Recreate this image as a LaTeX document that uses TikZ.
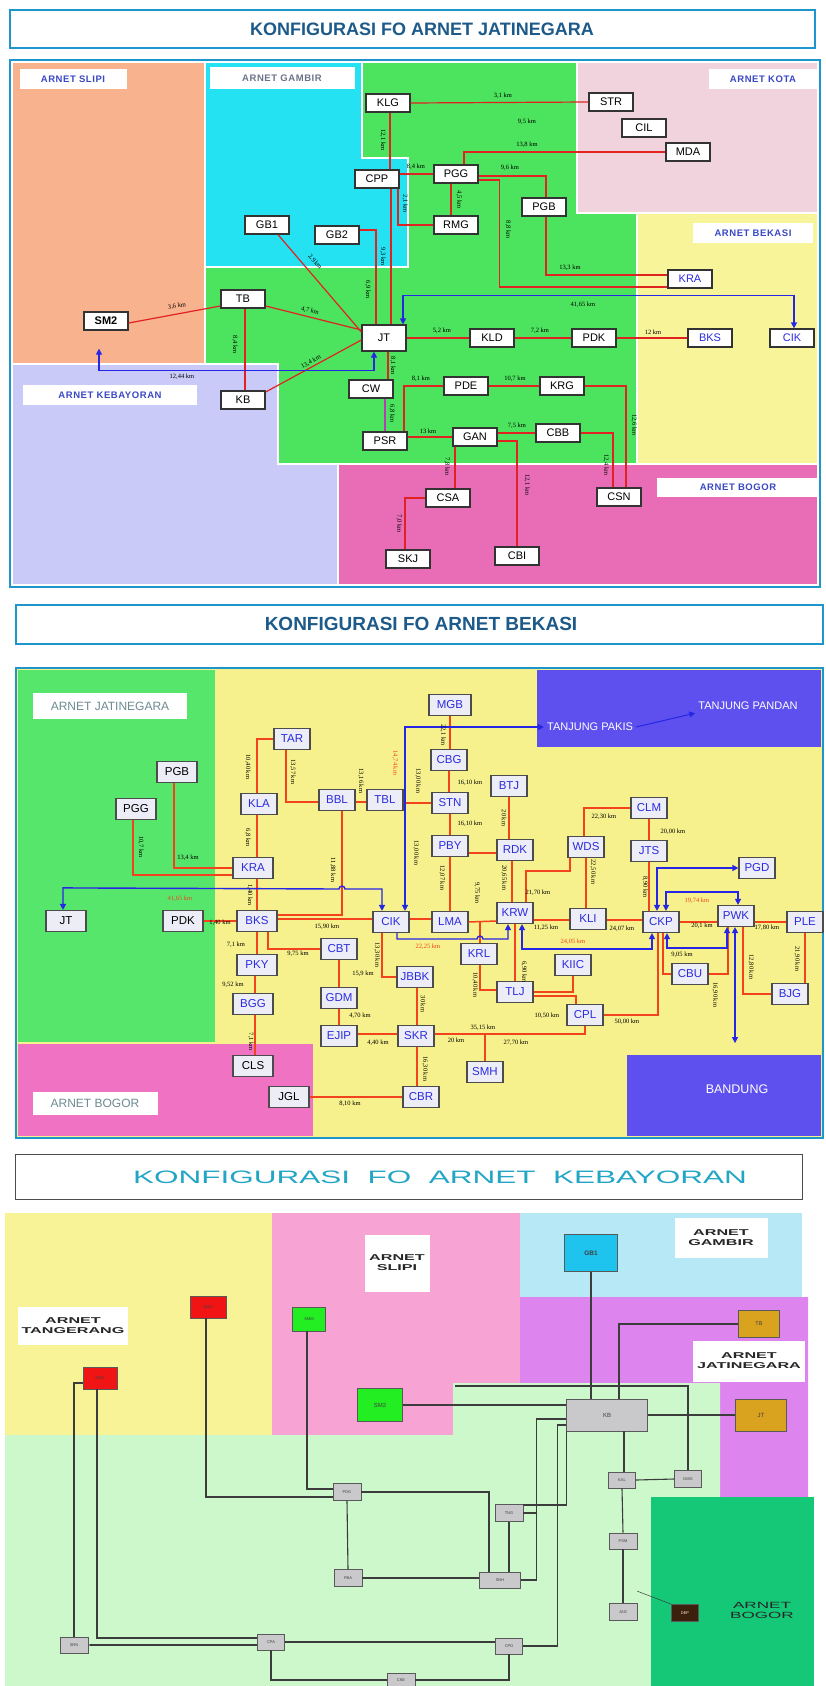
\documentclass[tikz,border=0pt]{standalone}
\usepackage{fontspec}
\setmainfont{Liberation Serif}
\setsansfont{Liberation Sans}
\newfontfamily\regfont[LetterSpace=6]{Liberation Sans}
\newfontfamily\widefont[FakeStretch=1.75]{Liberation Sans}
\newfontfamily\xwidefont[FakeStretch=1.9]{Liberation Sans}
\usetikzlibrary{arrows.meta}

% palette
\definecolor{frameblue}{HTML}{1E96CC}
\definecolor{titletext}{HTML}{1D5A8A}
\definecolor{rgorange}{HTML}{F9B28E}
\definecolor{rgcyan}{HTML}{25E2F2}
\definecolor{rggreen}{HTML}{4CE35E}
\definecolor{rgkota}{HTML}{F1D3DD}
\definecolor{rgyellow}{HTML}{F8F49A}
\definecolor{rgbogor}{HTML}{E86DB6}
\definecolor{rglav}{HTML}{CACAF8}
\definecolor{fored}{HTML}{E02222}
\definecolor{cwpurple}{HTML}{B43CB4}
\definecolor{lblblue}{HTML}{3A48C4}
\definecolor{lblgray}{HTML}{6C7488}
\definecolor{arrblue}{HTML}{2626E6}
\definecolor{mgreen}{HTML}{56E66C}
\definecolor{myellow}{HTML}{F6F18C}
\definecolor{mpink}{HTML}{F072C2}
\definecolor{mviolet}{HTML}{5E50EE}
\definecolor{mred}{HTML}{F2421E}
\definecolor{mnodefill}{HTML}{EDEDF7}
\definecolor{mnodetext}{HTML}{2B2BE0}
\definecolor{mgray}{HTML}{6E8A92}
\definecolor{kyellow}{HTML}{F8F396}
\definecolor{kpink}{HTML}{F7A3D3}
\definecolor{kblue}{HTML}{B6E8F6}
\definecolor{kpurple}{HTML}{DE84EE}
\definecolor{kgreen}{HTML}{CCF8CC}
\definecolor{kdgreen}{HTML}{14C878}
\definecolor{ktitle}{HTML}{23A6C6}
\definecolor{kgold}{HTML}{D9A21F}
\definecolor{kgbox}{HTML}{C9C9CB}
\definecolor{kgb1}{HTML}{1EC4EE}
\definecolor{kred}{HTML}{F01414}
\definecolor{kgrn}{HTML}{22EE22}
\definecolor{kline}{HTML}{3C3C3C}
\definecolor{kdep}{HTML}{3C200E}

\newcounter{lbn}
\newcommand{\lab}[4][el]{\stepcounter{lbn}\node[#1] (lab\thelbn) at (#2,#3) {#4};}

\tikzset{
  tn/.style={draw=black!80, line width=1.3pt, fill=white, minimum width=44pt,
    minimum height=18pt, inner sep=0pt, font=\fontsize{11}{11}\selectfont\sffamily},
  tnb/.style={tn, text=mnodetext},
  mn/.style={draw=black!70, line width=1.2pt, fill=mnodefill, minimum width=36pt,
    minimum height=21pt, inner sep=0pt, text=mnodetext,
    font=\fontsize{11.5}{11.5}\selectfont\sffamily},
  mnw/.style={mn, minimum width=40pt},
  mnk/.style={mnw, text=black},
  rl/.style={line width=1.2pt, draw=fored},
  ml/.style={line width=1.5pt, draw=mred},
  bl/.style={line width=1.4pt, draw=arrblue, >={Triangle[length=6pt,width=6pt]}},
  el/.style={font=\fontsize{6.5}{6.5}\selectfont\rmfamily, inner sep=0pt},
  ev/.style={el, rotate=-90},
  er/.style={el, text=mred},
  erv/.style={ev, text=mred},
  rlab/.style={fill=white, inner sep=0pt, text=lblblue,
    font={\fontsize{9.5}{9.5}\regfont\bfseries}},
  kl/.style={line width=1.1pt, draw=kline},
  kn/.style={draw=black!65, line width=0.8pt, fill=kgbox, inner sep=0pt,
    minimum width=28pt, minimum height=17pt, text=black!75,
    font=\fontsize{4}{4}\selectfont\sffamily},
  klab/.style={fill=white, inner sep=0pt, align=center, text=black!85,
    font={\fontsize{8.5}{10}\xwidefont\bfseries}},
}

\begin{document}
\begin{tikzpicture}[x=1pt,y=-1pt]
\useasboundingbox (0,0) rectangle (825,1686);
\fill[white] (0,0) rectangle (825,1686);

%% ===================== ARNET JATINEGARA =====================
\draw[frameblue, line width=2.5pt, fill=white] (10,10) rectangle (815,48);
\node[font=\fontsize{18}{18}\selectfont\sffamily\bfseries, text=titletext] (ttop) at (422,29)
  {KONFIGURASI FO ARNET JATINEGARA};

\begin{scope}[draw=white, line width=1.5pt]
  \filldraw[fill=rgorange] (12,62) rectangle (205,364);
  \filldraw[fill=rgcyan] (205,62) -- (362,62) -- (362,158) -- (408,158) -- (408,267) -- (205,267) -- cycle;
  \filldraw[fill=rggreen] (362,62) -- (577,62) -- (577,213) -- (637,213) -- (637,464) -- (278,464)
    -- (278,364) -- (205,364) -- (205,267) -- (408,267) -- (408,158) -- (362,158) -- cycle;
  \filldraw[fill=rglav] (12,364) -- (278,364) -- (278,464) -- (338,464) -- (338,585) -- (12,585) -- cycle;
  \filldraw[fill=rgkota] (577,62) rectangle (818,213);
  \filldraw[fill=rgyellow] (637,213) rectangle (818,464);
  \filldraw[fill=rgbogor] (338,464) rectangle (818,585);
\end{scope}
\draw[frameblue, line width=2.5pt] (10,60) rectangle (820,587);

\node[rlab, minimum width=107pt, minimum height=20pt] (rSlipi) at (73,79) {ARNET SLIPI};
\node[rlab, minimum width=145pt, minimum height=21pt, text=lblgray] (rGambir) at (282,78) {ARNET GAMBIR};
\node[rlab, minimum width=108pt, minimum height=19pt] (rKota) at (763,79) {ARNET KOTA};
\node[rlab, minimum width=120pt, minimum height=20pt] (rBekasi) at (753,233) {ARNET BEKASI};
\node[rlab, minimum width=174pt, minimum height=20pt] (rKeb) at (110,395) {ARNET KEBAYORAN};
\node[rlab, minimum width=162pt, minimum height=19pt] (rBogor) at (738,487) {ARNET BOGOR};

% stations
\node[tn] (aKLG) at (388,103) {KLG};
\node[tn] (aSTR) at (611,102) {STR};
\node[tn] (aCIL) at (644,128) {CIL};
\node[tn] (aMDA) at (688,152) {MDA};
\node[tn] (aCPP) at (377,179) {CPP};
\node[tn] (aPGG) at (456,174) {PGG};
\node[tn] (aGB1) at (267,225) {GB1};
\node[tn] (aGB2) at (337,235) {GB2};
\node[tn] (aRMG) at (456,225) {RMG};
\node[tn] (aPGB) at (544,207) {PGB};
\node[tnb] (aKRA) at (690,279) {KRA};
\node[tn] (aTB) at (243,299) {TB};
\node[tn] (aSM2) at (106,321) {\bfseries SM2};
\node[tn, minimum height=26pt] (aJT) at (384,338) {JT};
\node[tn] (aKLD) at (492,338) {KLD};
\node[tn] (aPDK) at (594,338) {PDK};
\node[tnb] (aBKS) at (710,338) {BKS};
\node[tnb] (aCIK) at (792,338) {CIK};
\node[tn] (aCW) at (371,389) {CW};
\node[tn] (aKB) at (243,400) {KB};
\node[tn] (aPDE) at (466,386) {PDE};
\node[tn] (aKRG) at (562,386) {KRG};
\node[tn] (aPSR) at (385,441) {PSR};
\node[tn] (aGAN) at (475,437) {GAN};
\node[tn] (aCBB) at (558,433) {CBB};
\node[tn] (aCSA) at (448,498) {CSA};
\node[tn] (aCSN) at (619,497) {CSN};
\node[tn] (aSKJ) at (408,559) {SKJ};
\node[tn] (aCBI) at (517,556) {CBI};

% fibre links
\draw[rl] (aKLG.east) -- (aSTR.west);
\draw[rl] ([xshift=2pt]aKLG.south) -- ([xshift=2pt]aKLG.south |- aCPP.north);
\draw[rl] (aCPP.east |- aPGG.west) -- (aPGG.west);
\draw[rl] ([xshift=21pt]aCPP.south) |- (aRMG.west);
\draw[rl] ([xshift=-5pt]aPGG.south) -- ([xshift=-5pt]aRMG.north);
\draw[rl] ([xshift=8pt]aPGG.north) |- (aMDA.west);
\draw[rl] ([yshift=-2pt]aPGG.east) -| ([xshift=2pt]aPGB.north);
\draw[rl] ([yshift=-6pt]aPGG.east) -- ++(21,0) |- ([yshift=-8pt]aKRA.west);
\draw[rl] ([xshift=2pt]aPGB.south) |- ([yshift=4pt]aKRA.west);
\draw[rl] ([xshift=11pt]aGB1.south) -- ([yshift=6pt]aJT.west);
\draw[rl] ([yshift=5pt]aGB2.east) -| ([xshift=-8pt]aJT.north);
\draw[rl] ([xshift=14pt]aCPP.south) -- ([xshift=14pt]aCPP.south |- aJT.north);
\draw[rl] ([yshift=-2pt]aSM2.east) -- ([yshift=-7pt]aTB.west);
\draw[rl] ([yshift=-7pt]aTB.east) -- ([yshift=8pt]aJT.west);
\draw[rl] ([xshift=2pt]aTB.south) -- ([xshift=2pt]aTB.south |- aKB.north);
\draw[rl] ([yshift=8pt]aKB.east) -- ([yshift=-2pt]aJT.west);
\draw[rl] ([xshift=4pt]aJT.south) -- ([xshift=4pt]aJT.south |- aCW.north);
\draw[rl, draw=cwpurple] (aCW.south -| aPSR.north) -- (aPSR.north);
\draw[rl] (aJT.east) -- (aKLD.west);
\draw[rl] (aKLD.east) -- (aPDK.west);
\draw[rl] (aPDK.east) -- (aBKS.west);
\draw[rl] ([xshift=19pt]aPSR.north) |- (aPDE.west);
\draw[rl] (aPDE.east) -- (aKRG.west);
\draw[rl] (aKRG.east) -| ([xshift=7pt]aCSN.north);
\draw[rl] (aPSR.east |- aGAN.west) -- (aGAN.west);
\draw[rl] (aGAN.east |- aCBB.west) -- (aCBB.west);
\draw[rl] (aCBB.east) -| ([xshift=-6pt]aCSN.north);
\draw[rl] ([xshift=-20pt]aGAN.south) -- ([xshift=-20pt]aGAN.south |- aCSA.north);
\draw[rl] ([yshift=-4pt]aGAN.east) -| (aCBI.north);
\draw[rl] (aCSA.west) -| ([xshift=-3pt]aSKJ.north);
\draw[bl,<->] ([xshift=19pt]aJT.north) -- ++(0,-29) -| ([xshift=2pt]aCIK.north);
\draw[bl,<->] ([xshift=-10pt]aJT.south) -- ++(0,19) -| ([xshift=-7pt,yshift=-18pt]aSM2.south);

% distances
\lab{503}{96}{3,1 km}
\lab{527}{122}{9,5 km}
\lab{527}{145}{13,8 km}
\lab{416}{167}{8,4 km}
\lab{510}{168}{9,6 km}
\lab[ev]{383}{140}{12,1 km}
\lab[ev]{405}{204}{2,1 km}
\lab[ev]{459}{200}{4,5 km}
\lab[ev]{508}{230}{8,8 km}
\lab{570}{268}{13,3 km}
\lab[el,rotate=-49]{315}{262}{2,9\,km}
\lab[ev]{368}{290}{6,9 km}
\lab[ev]{383}{257}{9,3 km}
\lab[el,rotate=10]{177}{306}{3,6 km}
\lab[el,rotate=-14]{310}{311}{4,7 km}
\lab[ev]{235}{345}{8,4 km}
\lab[el,rotate=28]{311}{362}{13,4 km}
\lab[ev]{393}{366}{8,1 km}
\lab[ev]{392}{414}{6,8 km}
\lab{442}{331}{5,2 km}
\lab{540}{331}{7,2 km}
\lab{653}{332}{12 km}
\lab{583}{305}{41,65 km}
\lab{182}{377}{12,44 km}
\lab{421}{379}{8,1 km}
\lab{515}{379}{10,7 km}
\lab[ev]{634}{425}{12,6 km}
\lab{428}{431}{13 km}
\lab{517}{426}{7,5 km}
\lab[ev]{606}{465}{12,4 km}
\lab[ev]{447}{467}{7,8 km}
\lab[ev]{527}{485}{12,1 km}
\lab[ev]{399}{524}{7,0 km}

%% ===================== ARNET BEKASI =====================
\draw[frameblue, line width=2.5pt, fill=white] (16,605) rectangle (823,644);
\node[font=\fontsize{19}{19}\selectfont\sffamily\bfseries, text=titletext] (tmid) at (421,624)
  {KONFIGURASI FO ARNET BEKASI};

\fill[myellow] (16,668) rectangle (823,1138);
\fill[mgreen] (18,670) rectangle (215,1042);
\fill[mpink] (18,1044) rectangle (313,1136);
\fill[mviolet] (537,670) rectangle (821,747);
\fill[mviolet] (627,1055) rectangle (821,1136);
\draw[frameblue, line width=2.5pt] (16,668) rectangle (823,1138);

\node[fill=white, minimum width=154pt, minimum height=26pt, inner sep=0pt, text=mgray,
  font=\fontsize{12}{12}\selectfont\sffamily] (mJat) at (110,706) {ARNET JATINEGARA};
\node[fill=white, minimum width=125pt, minimum height=23pt, inner sep=0pt, text=mgray,
  font=\fontsize{12}{12}\selectfont\sffamily] (mBog) at (95,1103) {ARNET BOGOR};
\node[text=white, inner sep=3pt, font=\fontsize{11}{11}\selectfont\sffamily] (TPK) at (590,727) {TANJUNG PAKIS};
\node[text=white, inner sep=3pt, font=\fontsize{11}{11}\selectfont\sffamily] (TPD) at (748,706) {TANJUNG PANDAN};
\node[text=white, font=\fontsize{12.5}{12.5}\selectfont\sffamily] (BDG) at (737,1089) {BANDUNG};

% stations
\node[mn] (bTAR) at (292,739) {TAR};
\node[mnk] (bPGB) at (177,772) {PGB};
\node[mnk] (bPGG) at (136,809) {PGG};
\node[mn] (bKLA) at (259,804) {KLA};
\node[mn] (bBBL) at (337,800) {BBL};
\node[mn] (bTBL) at (385,800) {TBL};
\node[mnw] (bKRA) at (253,868) {KRA};
\node[mn, minimum width=42pt] (bMGB) at (450,705) {MGB};
\node[mn] (bCBG) at (449,760) {CBG};
\node[mn] (bBTJ) at (509,786) {BTJ};
\node[mn] (bSTN) at (450,803) {STN};
\node[mn] (bPBY) at (450,846) {PBY};
\node[mn] (bRDK) at (515,850) {RDK};
\node[mn] (bWDS) at (586,847) {WDS};
\node[mn] (bCLM) at (649,808) {CLM};
\node[mn] (bJTS) at (649,851) {JTS};
\node[mn] (bPGD) at (757,868) {PGD};
\node[mnk] (bJT) at (66,921) {JT};
\node[mnk] (bPDK) at (183,921) {PDK};
\node[mnw] (bBKS) at (257,921) {BKS};
\node[mn] (bCIK) at (391,922) {CIK};
\node[mn] (bCBT) at (339,949) {CBT};
\node[mnw] (bPKY) at (257,965) {PKY};
\node[mn] (bGDM) at (339,998) {GDM};
\node[mnw] (bBGG) at (253,1004) {BGG};
\node[mn] (bEJIP) at (339,1036) {EJIP};
\node[mnw, text=black] (bCLS) at (253,1066) {CLS};
\node[mnw, text=black] (bJGL) at (289,1097) {JGL};
\node[mn] (bLMA) at (450,922) {LMA};
\node[mn] (bKRW) at (515,913) {KRW};
\node[mn] (bKLI) at (588,919) {KLI};
\node[mn] (bCKP) at (661,922) {CKP};
\node[mn] (bPWK) at (736,916) {PWK};
\node[mn] (bPLE) at (805,922) {PLE};
\node[mn] (bKRL) at (479,954) {KRL};
\node[mn] (bKIIC) at (573,965) {KIIC};
\node[mn] (bCBU) at (690,974) {CBU};
\node[mn] (bJBBK) at (415,977) {JBBK};
\node[mn] (bTLJ) at (515,992) {TLJ};
\node[mn] (bBJG) at (790,994) {BJG};
\node[mn] (bCPL) at (585,1015) {CPL};
\node[mn] (bSKR) at (416,1036) {SKR};
\node[mn] (bSMH) at (485,1072) {SMH};
\node[mn] (bCBR) at (421,1097) {CBR};

% fibre links
\draw[ml] ([xshift=-2pt]bKLA.north) |- (bTAR.west);
\draw[ml] ([xshift=-6pt]bTAR.south) |- ([yshift=-2pt]bBBL.west);
\draw[ml] ([yshift=-2pt]bBBL.east) -- ([yshift=-2pt]bTBL.west);
\draw[ml] (bTBL.east |- bSTN.west) -- (bSTN.west);
\draw[ml] ([xshift=-3pt]bPGG.south) |- ([yshift=-7pt]bKRA.west);
\draw[ml] ([xshift=-3pt]bPGB.south) |- (bKRA.west);
\draw[ml] ([xshift=-2pt]bKLA.south) -- ([xshift=-2pt]bKLA.south |- bKRA.north);
\draw[ml] ([xshift=4pt]bKRA.south) -- ([xshift=4pt]bKRA.south |- bBKS.north);
\draw[ml] ([xshift=5pt]bBBL.south) |- ([yshift=6pt]bBKS.east);
\draw[ml] (bPDK.east) -- (bBKS.west);
\draw[ml] ([yshift=2pt]bBKS.east) -- ([yshift=2pt]bBKS.east -| bCIK.west);
\draw[ml] ([xshift=11pt]bBKS.south) |- (bCBT.west);
\draw[ml] (bBKS.south) -- (bPKY.north);
\draw[ml] ([xshift=-2pt]bPKY.south) -- ([xshift=-2pt]bPKY.south |- bBGG.north);
\draw[ml] ([xshift=2pt]bBGG.south) -- ([xshift=2pt]bBGG.south |- bCLS.north);
\draw[ml] (bCBT.south) -- (bGDM.north);
\draw[ml] (bGDM.south) -- (bEJIP.north);
\draw[ml] ([yshift=2pt]bEJIP.east) -- ([yshift=2pt]bEJIP.east -| bSKR.west);
\draw[ml] ([xshift=-9pt]bCIK.south) |- (bJBBK.west);
\draw[ml] ([xshift=2pt]bJBBK.south) -- ([xshift=2pt]bJBBK.south |- bSKR.north);
\draw[ml] ([xshift=1pt]bSKR.south) -- ([xshift=1pt]bSKR.south |- bCBR.north);
\draw[ml] (bJGL.east) -- (bCBR.west);
\draw[ml] ([yshift=2pt]bSKR.east) -| (bCPL.south);
\draw[ml] (bSMH.north) -- ([yshift=2pt]bSMH.north |- bSKR.east);
\draw[ml] ([yshift=3pt]bCIK.east) -- ([yshift=3pt]bCIK.east -| bLMA.west);
\draw[ml] (bLMA.north) -- (bPBY.south);
\draw[ml] ([yshift=-7pt]bPBY.east) -- ([yshift=-7pt]bPBY.east -| bRDK.west);
\draw[ml] (bSTN.south) -- (bPBY.north);
\draw[ml] (bCBG.south) -- (bCBG.south |- bSTN.north);
\draw[ml] (bMGB.south) -- (bMGB.south |- bCBG.north);
\draw[ml] (bLMA.east) -- ([yshift=-8pt]bKRW.west);
\draw[ml] ([xshift=-3pt]bRDK.south) -- ([xshift=-3pt]bRDK.south |- bKRW.north);
\draw[ml] (bBTJ.south) -- (bBTJ.south |- bRDK.north);
\draw[ml] ([xshift=11pt]bKRW.north) -- ++(0,-31) -| ([xshift=-16pt]bWDS.south);
\draw[ml] ([xshift=-2pt]bWDS.north) |- (bCLM.west);
\draw[ml] (bCLM.south) -- (bCLM.south |- bJTS.north);
\draw[ml] (bWDS.south) -- (bWDS.south |- bKLI.north);
\draw[ml] (bJTS.south) -- (bJTS.south |- bCKP.north);
\draw[ml] ([yshift=-7pt]bKRW.east) -- ([yshift=-7pt]bKRW.east -| bKLI.west);
\draw[ml] ([yshift=-1pt]bKLI.east) -- ([yshift=-1pt]bKLI.east -| bCKP.west);
\draw[ml] (bCKP.east) -- (bCKP.east -| bPWK.west);
\draw[ml] (bPWK.east |- bPLE.west) -- (bPLE.west);
\draw[ml] (bPLE.south) -- (bPLE.south |- bBJG.north);
\draw[ml] ([xshift=7pt]bPWK.south) |- (bBJG.west);
\draw[ml] ([xshift=2pt]bCKP.south) |- (bCBU.west);
\draw[ml] (bCBU.east) -| ([xshift=-8pt]bPWK.south);
\draw[ml] (bCPL.east) -| ([xshift=-3pt]bCKP.south);
\draw[ml] (bTLJ.east) -| (bKIIC.south);
\draw[ml] ([yshift=-4pt]bTLJ.east) -| ([xshift=-9pt]bCPL.north);
\draw[ml] ([xshift=1pt]bKRL.south) |- ([yshift=2pt]bTLJ.west);
\draw[ml] ([xshift=1pt]bKRL.north) -- ([xshift=1pt]bKRL.north |- bLMA.east);
\draw[ml] (bTLJ.north) -- (bKRW.south);

% leased / radio paths
\coordinate (hopA) at (339,889);
\coordinate (hopB) at (477,939);
\draw[bl,<->] ([xshift=14pt]bCIK.north) |- (TPK.west);
\draw[bl,<->] ([xshift=-3pt]bJT.north) -- ++(0,-22) -- (hopA) arc[start angle=180, end angle=360, radius=3]
  -- ([xshift=-9pt]bCIK.north |- hopA) -- ([xshift=-9pt]bCIK.north);
\draw[bl,->] ([xshift=6pt]bCIK.south) |- (hopB) arc[start angle=180, end angle=360, radius=3]
  -- ([xshift=-7pt]bKRW.south |- hopB) -- ([xshift=-7pt]bKRW.south);
\draw[bl,<->] ([xshift=7pt]bKRW.south) -- ++(0,25) -| ([xshift=-9pt]bCKP.south);
\draw[bl,<->] ([xshift=-4pt]bCKP.north) |- (bPGD.west);
\draw[bl,<->] ([xshift=5pt]bCKP.north) -- ++(0,-19) -| ([xshift=2pt]bPWK.north);
\draw[bl,<->] ([xshift=6pt]bCKP.south) -- ++(0,15) -| ([xshift=-9pt]bPWK.south);
\draw[bl,<->] ([xshift=-1pt]bPWK.south) -- ++(0,116);
\draw[bl,->, line width=1pt] (TPK.east) -- (TPD.south west);

% distances
\lab[ev]{248}{767}{10,40 km}
\lab[ev]{293}{772}{13,57 km}
\lab[ev]{361}{781}{13,16 km}
\lab[ev]{418}{781}{13,00 km}
\lab[ev]{141}{847}{10,7 km}
\lab{188}{858}{13,4 km}
\lab[ev]{248}{838}{6,8 km}
\lab[ev]{250}{895}{1,40 km}
\lab[ev]{333}{870}{11,88 km}
\lab{220}{923}{1,40 km}
\lab{327}{927}{15,90 km}
\lab{298}{954}{9,75 km}
\lab{236}{945}{7,1 km}
\lab{233}{985}{9,52 km}
\lab[ev]{251}{1042}{7,1 km}
\lab{363}{974}{15,9 km}
\lab{360}{1016}{4,70 km}
\lab{378}{1043}{4,40 km}
\lab[ev]{377}{955}{13,30 km}
\lab[ev]{423}{1004}{30 km}
\lab[ev]{425}{1069}{16,30 km}
\lab{350}{1104}{8,10 km}
\lab{483}{1028}{35,15 km}
\lab{456}{1040}{20 km}
\lab{516}{1043}{27,70 km}
\lab[ev]{442}{878}{12,07 km}
\lab{470}{824}{16,10 km}
\lab{470}{783}{16,10 km}
\lab[ev]{443}{735}{22,1 km}
\lab[ev]{477}{893}{9,75 km}
\lab[ev]{504}{878}{20,65 km}
\lab[ev]{504}{818}{20 km}
\lab{538}{893}{21,70 km}
\lab{604}{817}{22,30 km}
\lab{673}{832}{20,00 km}
\lab[ev]{593}{872}{22,50 km}
\lab[ev]{645}{887}{8,90 km}
\lab{546}{928}{11,25 km}
\lab{622}{929}{24,07 km}
\lab{702}{926}{20,1 km}
\lab{767}{928}{17,80 km}
\lab[ev]{797}{959}{21,90 km}
\lab[ev]{751}{967}{12,80 km}
\lab{682}{955}{9,05 km}
\lab[ev]{715}{995}{16,90 km}
\lab{627}{1022}{50,00 km}
\lab{547}{1016}{10,50 km}
\lab[ev]{475}{985}{10,40 km}
\lab[ev]{524}{972}{6,90 km}
\lab[ev]{416}{853}{13,00 km}
\lab[erv]{395}{763}{14,74 km}
\lab[er]{180}{899}{41,65 km}
\lab[er]{428}{947}{22,25 km}
\lab[er]{573}{942}{24,05 km}
\lab[er]{697}{901}{19,74 km}

%% ===================== ARNET KEBAYORAN =====================
\draw[black!70, line width=0.8pt, fill=white] (15,1154) rectangle (802,1199);
\node[text=ktitle, font={\fontsize{18}{18}\widefont}] (tbot) at (440,1177)
  {KONFIGURASI\ \ FO\ \ ARNET\ \ KEBAYORAN};

\fill[kyellow] (5,1213) rectangle (272,1435);
\fill[kpink] (272,1213) -- (520,1213) -- (520,1383) -- (453,1383) -- (453,1435) -- (272,1435) -- cycle;
\fill[kblue] (520,1213) rectangle (802,1297);
\fill[kpurple] (520,1297) -- (808,1297) -- (808,1497) -- (720,1497) -- (720,1383) -- (520,1383) -- cycle;
\fill[kgreen] (5,1435) -- (453,1435) -- (453,1383) -- (720,1383) -- (720,1497) -- (651,1497) -- (651,1686) -- (5,1686) -- cycle;
\fill[kdgreen] (651,1497) rectangle (814,1686);

\node[klab, minimum width=110pt, minimum height=38pt] (kTang) at (73,1326) {ARNET\\TANGERANG};
\node[klab, minimum width=65pt, minimum height=57pt] (kSlipi) at (397,1263) {ARNET\\SLIPI};
\node[klab, minimum width=93pt, minimum height=40pt] (kGambir) at (721,1238) {ARNET\\GAMBIR};
\node[klab, minimum width=112pt, minimum height=41pt] (kJat) at (749,1361) {ARNET\\JATINEGARA};
\node[align=center, text=black!85, font={\fontsize{9}{10}\xwidefont}] (kBogor) at (762,1610) {ARNET\\BOGOR};

% stations
\node[kn, fill=kgb1, minimum width=53pt, minimum height=37pt, font=\fontsize{6.5}{6.5}\selectfont\sffamily\bfseries] (cGB1) at (591,1253) {GB1};
\node[kn, fill=kgold, minimum width=41pt, minimum height=27pt, font=\fontsize{5.5}{5.5}\selectfont\sffamily] (cTB) at (759,1324) {TB};
\node[kn, fill=kgold, minimum width=51pt, minimum height=32pt, font=\fontsize{6}{6}\selectfont\sffamily] (cJT) at (761,1415) {JT};
\node[kn, minimum width=81pt, minimum height=32pt, font=\fontsize{6}{6}\selectfont\sffamily] (cKB) at (607,1415) {KB};
\node[kn, fill=kgrn, minimum width=45pt, minimum height=33pt, font=\fontsize{6}{6}\selectfont\sffamily] (cSM2) at (380,1405) {SM2};
\node[kn, fill=kred, minimum width=36pt, minimum height=22pt] (cSML) at (208,1307) {SMU};
\node[kn, fill=kgrn, minimum width=33pt, minimum height=24pt] (cSMM) at (309,1319) {SMM};
\node[kn, fill=kred, minimum width=34pt, minimum height=22pt] (cNRO) at (100,1378) {NRO};
\node[kn] (cPDG) at (347,1492) {PDG};
\node[kn] (cPBA) at (348,1578) {PBA};
\node[kn, minimum height=16pt] (cSRN) at (74,1645) {SRN};
\node[kn, minimum width=27pt, minimum height=16pt] (cCPA) at (271,1642) {CPA};
\node[kn, minimum height=14pt] (cCKE) at (401,1680) {CKE};
\node[kn] (cTNG) at (509,1513) {TNG};
\node[kn, minimum width=41pt, minimum height=16pt] (cSNH) at (500,1580) {SNH};
\node[kn, minimum width=27pt, minimum height=16pt] (cCPD) at (509,1646) {CPD};
\node[kn, minimum width=27pt, minimum height=16pt] (cKAL) at (622,1480) {KAL};
\node[kn, minimum width=27pt] (cGMG) at (688,1479) {GMG};
\node[kn, minimum height=16pt] (cPSM) at (623,1541) {PSM};
\node[kn] (cJAG) at (623,1612) {JAG};
\node[kn, fill=kdep, minimum width=27pt, text=white!85!orange] (cDEP) at (685,1613) {DEP};

% links
\draw[kl] (cGB1.south) -- (cGB1.south |- cKB.north);
\draw[kl] (cTB.west) -| ([xshift=12pt]cKB.north);
\draw[kl] (cKB.east) -- (cJT.west);
\draw[kl] (cSM2.east) -- (cSM2.east -| cKB.west);
\draw[kl] (455,1386) -| (cGMG.north);
\draw[kl] ([yshift=-4pt]cKB.west) -- ++(-30,0) |- (cSNH.east);
\draw[kl] ([yshift=-10pt]cKB.west) -- ++(-9,0) |- (cCPD.east);
\draw[kl] (cKB.south west) |- ([yshift=8pt]cTNG.east);
\draw[kl,->,>={Stealth[length=3pt]}] (cTNG.east) -- ++(14,0);
\draw[kl] (cTNG.south) -- (cTNG.south |- cSNH.north);
\draw[kl] (cPDG.east) -| ([xshift=-11pt]cSNH.north);
\draw[kl] (cPBA.east) -- (cPBA.east -| cSNH.west);
\draw[kl] (cPDG.south) -- (cPBA.north);
\draw[kl] ([xshift=-2pt]cSMM.south) |- ([yshift=3pt]cPDG.west);
\draw[kl] ([xshift=-2pt]cSML.south) |- ([yshift=-5pt]cPDG.west);
\draw[kl] ([yshift=-5pt]cNRO.west) -| (cSRN.north);
\draw[kl] ([xshift=-3pt]cNRO.south) |- ([yshift=4pt]cCPA.west);
\draw[kl,<-,>={Stealth[length=3pt]}] (cSRN.east) -- (cSRN.east -| cCPA.west);
\draw[kl] (cCPA.east) -- (cCPA.east -| cCPD.west);
\draw[kl] (cCPA.south) |- (cCKE.west);
\draw[kl] (cCPD.south) |- (cCKE.east);
\draw[kl] ([xshift=17pt]cKB.south) -- ([xshift=17pt]cKB.south |- cKAL.north);
\draw[kl] (cKAL.east) -- (cGMG.west);
\draw[kl] (cKAL.south) -- (cPSM.north);
\draw[kl] (cPSM.south) -- (cJAG.north);
\draw[line width=0.5pt, kline] (cDEP.north west) -- ++(-34,-13);

\end{tikzpicture}
\end{document}
